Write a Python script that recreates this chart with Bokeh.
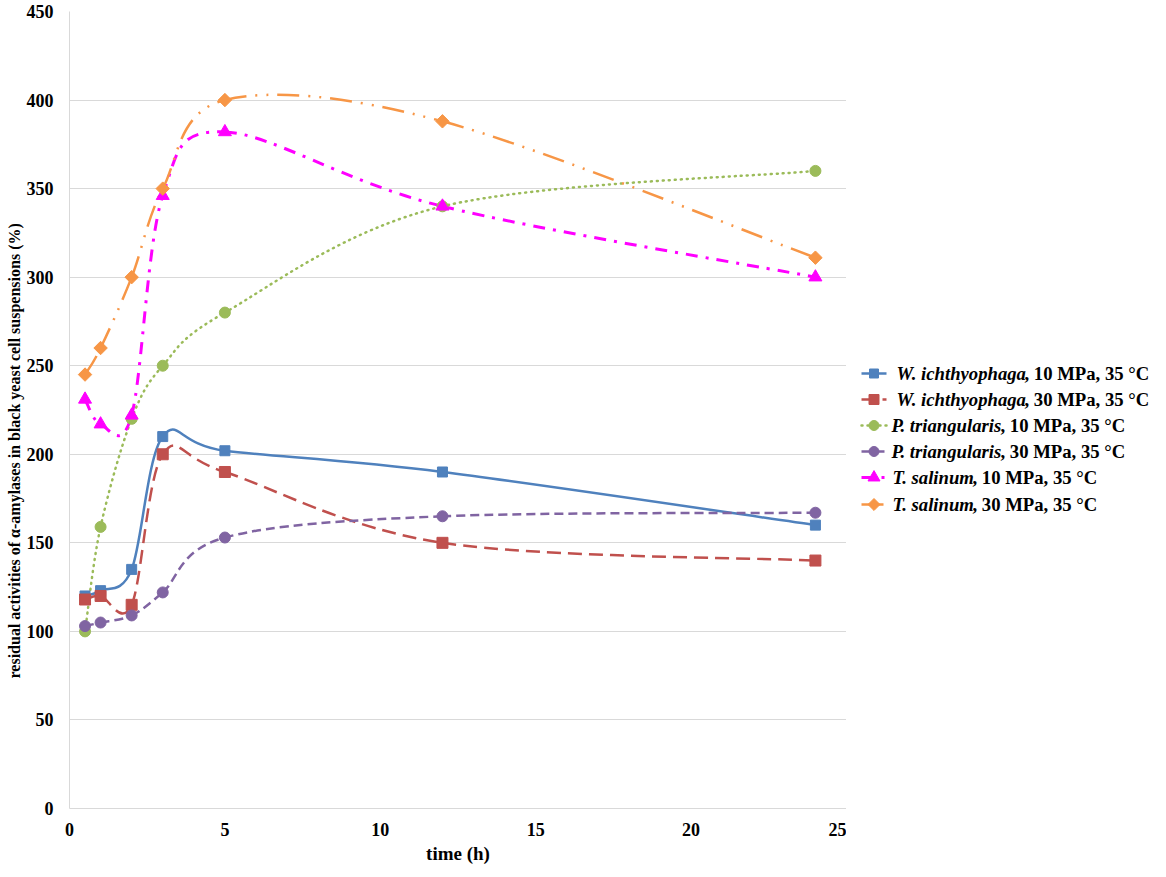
import numpy as np
from bokeh.plotting import figure
from bokeh.models import Range1d, FixedTicker, Title, ColumnDataSource
from bokeh.layouts import row
from bokeh.embed import file_html
from bokeh.resources import INLINE
from bokeh.core.properties import value

# ---------------- data ----------------
time_h = [0.5, 1, 2, 3, 5, 12, 24]
wi_10 = [120, 123, 135, 210, 202, 190, 160]
wi_30 = [118, 120, 115, 200, 190, 150, 140]
pt_10 = [100, 159, 220, 250, 280, 340, 360]
pt_30 = [103, 105, 109, 122, 153, 165, 167]
ts_10 = [231, 217, 222, 346, 382, 340, 300]
ts_30 = [245, 260, 300, 350, 400, 388, 311]

species = ["W. ichthyophaga", "W. ichthyophaga", "P. triangularis",
           "P. triangularis", "T. salinum", "T. salinum"]
conditions = [", 10 MPa, 35 °C", ", 30 MPa, 35 °C", ", 10 MPa, 35 °C",
              ", 30 MPa, 35 °C", ", 10 MPa, 35 °C", ", 30 MPa, 35 °C"]

x_ticks = [0, 5, 10, 15, 20, 25]
y_ticks = [0, 50, 100, 150, 200, 250, 300, 350, 400, 450]
x_label = "time (h)"
y_label = "residual activities of \u03b1-amylases in black yeast cell suspensions (%)"

series = [wi_10, wi_30, pt_10, pt_30, ts_10, ts_30]

# ---------------- styles ----------------
colors = ["#4F81BD", "#C0504D", "#9BBB59", "#8064A2", "#FF00FF", "#F79646"]
dashes = ["solid", "14 7", "1 5", "9 5", "12 8 3 8", "22 9 2 9 2 9"]
caps = ["butt", "butt", "round", "butt", "butt", "butt"]
widths = [2.5, 2.5, 2.5, 2.5, 3, 2.5]
markers = ["square", "square", "circle", "circle", "triangle", "square"]
msizes = [10, 11, 11, 11, 13, 9.5]
mangles = [0, 0, 0, 0, 0, np.pi / 4]

FONT = "Liberation Serif"


def smooth_segments(xs, ys):
    """Cubic Bezier control points (Catmull-Rom style, like Excel smoothed lines)."""
    P = np.column_stack([np.asarray(xs, float), np.asarray(ys, float)])
    n = len(P)
    out = {k: [] for k in ["x0", "y0", "x1", "y1", "cx0", "cy0", "cx1", "cy1"]}
    for i in range(n - 1):
        p0 = P[i - 1] if i > 0 else P[i]
        p1 = P[i]
        p2 = P[i + 1]
        p3 = P[i + 2] if i + 2 < n else P[i + 1]
        c0 = p1 + (p2 - p0) / 6.0
        c1 = p2 - (p3 - p1) / 6.0
        out["x0"].append(p1[0]); out["y0"].append(p1[1])
        out["x1"].append(p2[0]); out["y1"].append(p2[1])
        out["cx0"].append(c0[0]); out["cy0"].append(c0[1])
        out["cx1"].append(c1[0]); out["cy1"].append(c1[1])
    return out


H = 868
TOP_B = 11
BOT_B = 60

# ---------------- main figure ----------------
p = figure(width=846, height=H, x_range=Range1d(0, 25), y_range=Range1d(0, 450),
           output_backend="svg", toolbar_location=None,
           min_border_left=69, min_border_right=0, min_border_top=TOP_B,
           min_border_bottom=BOT_B)
p.outline_line_color = None
p.background_fill_color = "white"
p.border_fill_color = "white"

p.xgrid.visible = False
p.ygrid.grid_line_color = "#d9d9d9"
p.ygrid.grid_line_width = 1

for ax in (p.xaxis[0], p.yaxis[0]):
    ax.axis_line_color = "#d9d9d9"
    ax.axis_line_width = 1
    ax.major_tick_line_color = None
    ax.minor_tick_line_color = None
    ax.major_tick_out = 0
    ax.major_tick_in = 0
    ax.major_label_text_font = FONT
    ax.major_label_text_font_size = "18px"
    ax.major_label_text_font_style = "bold"
    ax.major_label_text_color = "black"

p.xaxis.ticker = FixedTicker(ticks=x_ticks)
p.yaxis.ticker = FixedTicker(ticks=y_ticks)
p.xaxis.major_label_standoff = 14
p.yaxis.major_label_standoff = 16
p.xaxis.axis_label = x_label
p.xaxis.axis_label_text_font = FONT
p.xaxis.axis_label_text_font_size = "19px"
p.xaxis.axis_label_text_font_style = "bold"
p.xaxis.axis_label_text_color = "black"
p.xaxis.axis_label_standoff = 4

ytitle = Title(text=y_label, align="left", offset=130, vertical_align="middle",
               text_font=FONT, text_font_size="16px", text_font_style="bold",
               text_color="black", standoff=0)
p.add_layout(ytitle, "left")

for i, ys in enumerate(series):
    seg = smooth_segments(time_h, ys)
    p.bezier(x0="x0", y0="y0", x1="x1", y1="y1", cx0="cx0", cy0="cy0",
             cx1="cx1", cy1="cy1", source=ColumnDataSource(seg),
             line_color=colors[i], line_width=widths[i], line_dash=dashes[i],
             line_cap=caps[i])

for i, ys in enumerate(series):
    p.scatter(time_h, ys, marker=markers[i], size=msizes[i], angle=mangles[i],
              fill_color=colors[i], line_color=colors[i])

# ---------------- legend figure (pixel coordinates) ----------------
LW = 304
lg = figure(width=LW, height=H, x_range=Range1d(0, LW),
            y_range=Range1d(H - BOT_B, TOP_B),
            output_backend="svg", toolbar_location=None,
            x_axis_location=None, y_axis_location=None, min_border=0,
            min_border_top=TOP_B, min_border_bottom=BOT_B)
lg.grid.visible = False
lg.outline_line_color = None
lg.background_fill_color = "white"
lg.border_fill_color = "white"

row_y = [373, 399, 425, 451, 477, 504]
sp_x = [50, 50, 45, 45, 46, 46]
cond_x = [178, 178, 154, 154, 126, 126]

for i in range(6):
    lg.segment(x0=[15], y0=[row_y[i]], x1=[40], y1=[row_y[i]],
               line_color=colors[i], line_width=widths[i], line_dash=dashes[i],
               line_cap=caps[i])
    lg.scatter([27.5], [row_y[i]], marker=markers[i], size=msizes[i] - 1, angle=-mangles[i],
               fill_color=colors[i], line_color=colors[i])
    lg.text(x=[sp_x[i]], y=[row_y[i]], text=[species[i]], text_font=value(FONT),
            text_font_size="18.7px", text_font_style="bold italic",
            text_color="black", text_baseline="middle", text_align="left")
    lg.text(x=[cond_x[i]], y=[row_y[i]], text=[conditions[i]], text_font=value(FONT),
            text_font_size="18.7px", text_font_style="bold",
            text_color="black", text_baseline="middle", text_align="left")

layout = row(p, lg)
open("out.html", "w").write(file_html(layout, INLINE))
